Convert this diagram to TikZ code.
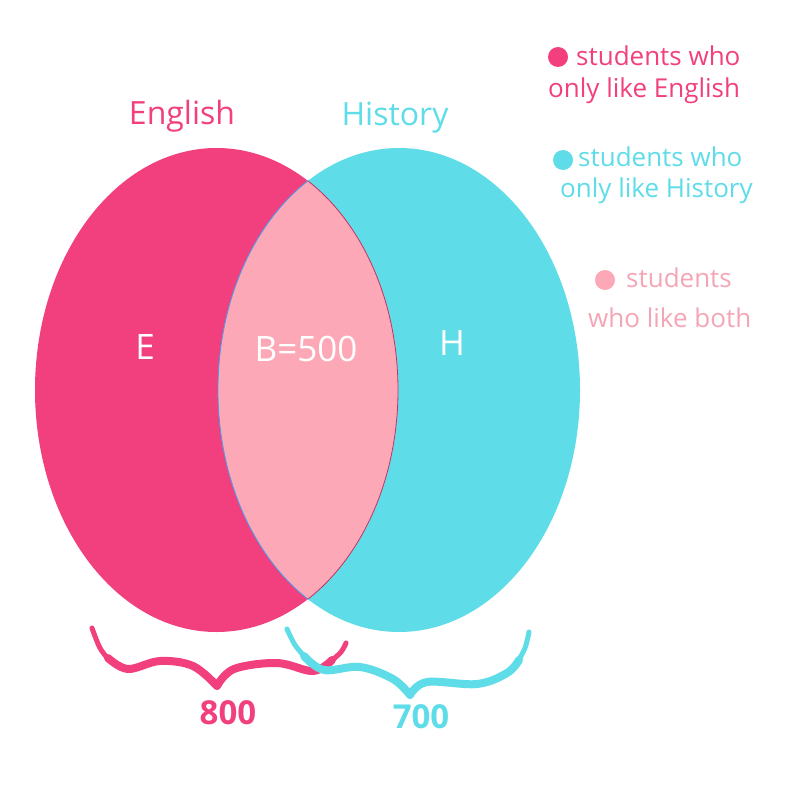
\documentclass[tikz,border=0pt]{standalone}
\usepackage{fontspec}
\setmainfont{Open Sans}
\begin{document}
\definecolor{engpink}{HTML}{F2407E}
\definecolor{histcyan}{HTML}{5EDDE8}
\definecolor{bothpink}{HTML}{FDA8B6}
\definecolor{bothtext}{HTML}{F5A6B6}
\begin{tikzpicture}[x=1pt,y=-1pt,
  hand/.style={inner sep=0pt, font=\fontsize{26}{29}\selectfont},
  title/.style={inner sep=0pt, font=\fontsize{32}{35}\selectfont},
  inlabel/.style={inner sep=0pt, text=white, font=\fontsize{35}{38}\selectfont},
  count/.style={inner sep=0pt, font=\bfseries\fontsize{33}{36}\selectfont},
  dot/.style={circle, inner sep=0pt, minimum size=20pt},
  brace/.style={line width=8pt, line cap=round, line join=round},
  braceend/.style={line width=5pt, line cap=round}]
\useasboundingbox[fill=white] (0,0) rectangle (800,800);

% the two sets
\fill[engpink] (216.5,390) ellipse [x radius=181.5, y radius=242];
\fill[histcyan] (399,390) ellipse [x radius=181, y radius=242];
% their overlap
\begin{scope}
  \clip (216.5,390) ellipse [x radius=181.5, y radius=242];
  \fill[bothpink] (399,390) ellipse [x radius=181, y radius=242];
  \draw[histcyan!70!blue, line width=0.8pt] (399,390) ellipse [x radius=181, y radius=242];
\end{scope}
\begin{scope}
  \clip (399,390) ellipse [x radius=181, y radius=242];
  \draw[engpink!80!black, line width=0.8pt] (216.5,390) ellipse [x radius=181.5, y radius=242];
\end{scope}

% set titles
\node[title, text=engpink] (engtitle) at (182,116) {English};
\node[title, text=histcyan] (histtitle) at (395,118) {History};

% region labels
\node[inlabel] (E) at (145,347) {E};
\node[inlabel] (B) at (306,349) {B=500};
\node[inlabel] (H) at (452,343) {H};

% braces under the sets: heavy middle, thinner tips
\draw[brace, engpink]
  plot[smooth, tension=0.6] coordinates {(108,658) (128,669) (160,661) (193,666) (217,686)}
  plot[smooth, tension=0.6] coordinates {(217,686) (234,669) (277,663) (313,671) (332,660)};
\draw[braceend, engpink] plot[smooth, tension=0.6] coordinates {(92,628) (100,648) (110,661)};
\draw[braceend, engpink] plot[smooth, tension=0.6] coordinates {(330,662) (341,652) (346,643)};
\draw[brace, histcyan]
  plot[smooth, tension=0.6] coordinates {(304,656) (324,670) (360,667) (393,679) (410,695)}
  plot[smooth, tension=0.6] coordinates {(410,695) (427,682) (477,684) (507,673) (519,660)};
\draw[braceend, histcyan] plot[smooth, tension=0.6] coordinates {(287,629) (295,645) (306,658)};
\draw[braceend, histcyan] plot[smooth, tension=0.6] coordinates {(517,663) (525,648) (529,632)};
\node[count, text=engpink] (n800) at (228,713) {800};
\node[count, text=histcyan] (n700) at (421,717) {700};

% legend
\node[dot, fill=engpink] (d1) at (558,57) {};
\node[hand, text=engpink, anchor=west] (l1a) at (576,56) {students who};
\node[hand, text=engpink, anchor=west] (l1b) at (548,91) {only like English};

\node[dot, fill=histcyan] (d2) at (563,160) {};
\node[hand, text=histcyan, anchor=west] (l2a) at (578,157) {students who};
\node[hand, text=histcyan, anchor=west] (l2b) at (560,191) {only like History};

\node[dot, fill=bothpink] (d3) at (605,280) {};
\node[hand, text=bothtext, anchor=west] (l3a) at (626,278) {students};
\node[hand, text=bothtext, anchor=west] (l3b) at (588,318) {who like both};
\end{tikzpicture}
\end{document}
